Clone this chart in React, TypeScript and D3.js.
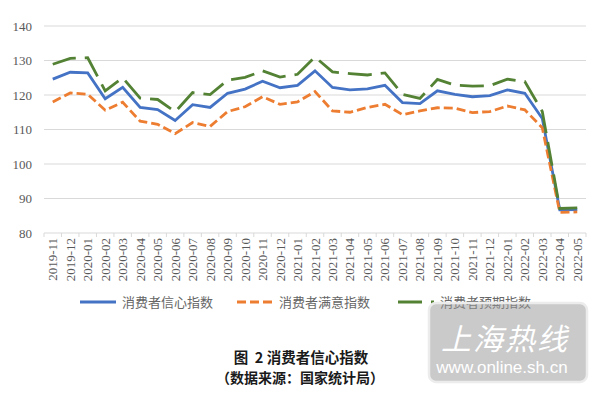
import React, { useEffect, useRef } from 'react'
import * as d3 from 'd3'

const months = [
  '2019-11', '2019-12', '2020-01', '2020-02', '2020-03', '2020-04', '2020-05', '2020-06',
  '2020-07', '2020-08', '2020-09', '2020-10', '2020-11', '2020-12', '2021-01', '2021-02',
  '2021-03', '2021-04', '2021-05', '2021-06', '2021-07', '2021-08', '2021-09', '2021-10',
  '2021-11', '2021-12', '2022-01', '2022-02', '2022-03', '2022-04', '2022-05',
]

// 消费者信心指数
const confidence = [
  124.6, 126.6, 126.4, 118.9, 122.2, 116.4, 115.8, 112.6, 117.2, 116.4, 120.5, 121.7,
  124.0, 122.1, 122.8, 127.0, 122.2, 121.5, 121.8, 122.8, 117.8, 117.5, 121.2, 120.2,
  119.5, 119.8, 121.5, 120.5, 113.2, 86.7, 86.8,
]
// 消费者满意指数
const satisfaction = [
  118.0, 120.6, 120.2, 115.6, 117.9, 112.4, 111.5, 108.8, 112.0, 110.9, 115.2, 116.6,
  119.5, 117.3, 118.0, 121.0, 115.4, 115.0, 116.4, 117.3, 114.3, 115.4, 116.3, 116.2,
  114.9, 115.2, 116.8, 115.7, 110.5, 86.0, 86.1,
]
// 消费者预期指数
const expectation = [
  128.9, 130.6, 130.8, 121.2, 125.0, 119.1, 118.7, 115.1, 120.7, 120.1, 124.3, 125.1,
  127.0, 125.2, 126.0, 131.0, 126.7, 126.2, 125.8, 126.4, 120.2, 119.0, 124.5, 122.9,
  122.6, 122.7, 124.6, 123.9, 115.2, 87.1, 87.3,
]

const yTicks = [80, 90, 100, 110, 120, 130, 140]
const seriesNames = ['消费者信心指数', '消费者满意指数', '消费者预期指数']

const serif = 'serif'

export default function App() {
  const ref = useRef<SVGSVGElement>(null)

  useEffect(() => {
    const svg = d3.select(ref.current)
    svg.selectAll('*').remove()

    const left = 44, right = 586, top = 26, bottom = 233

    const x = d3.scaleBand().domain(months).range([left, right])
    const y = d3.scaleLinear().domain([80, 140]).range([bottom, top])

    // grid
    svg.append('g')
      .selectAll('line')
      .data(yTicks.slice(1))
      .enter()
      .append('line')
      .attr('x1', left).attr('x2', right)
      .attr('y1', d => y(d)).attr('y2', d => y(d))
      .attr('stroke', '#d9d9d9').attr('stroke-width', 1)

    svg.append('g')
      .selectAll('text')
      .data(yTicks)
      .enter()
      .append('text')
      .attr('x', 32)
      .attr('y', d => y(d) + 4.5)
      .attr('text-anchor', 'end')
      .style('font-family', serif)
      .attr('font-size', 13)
      .attr('fill', '#595959')
      .text(d => d)

    // x axis
    const xAxis = svg.append('g').attr('transform', `translate(0,${bottom})`)
    xAxis.append('line')
      .attr('x1', left).attr('x2', right)
      .attr('stroke', '#d9d9d9')
    xAxis.selectAll('line.tick')
      .data(months.map(m => x(m)!).concat([right]))
      .enter()
      .append('line')
      .attr('class', 'tick')
      .attr('x1', d => d).attr('x2', d => d)
      .attr('y1', 0).attr('y2', 4)
      .attr('stroke', '#d9d9d9')
    xAxis.selectAll('text')
      .data(months)
      .enter()
      .append('text')
      .attr('transform', d => `translate(${x(d)! + x.bandwidth() / 2 + 4.5},5) rotate(-90)`)
      .attr('text-anchor', 'end')
      .style('font-family', serif)
      .attr('font-size', 13)
      .attr('fill', '#595959')
      .text(d => d)

    const line = d3.line<number>()
      .x((_, i) => x(months[i])! + x.bandwidth() / 2)
      .y(d => y(d))

    const styles = [
      { data: confidence, color: '#4472c4', dash: null },
      { data: satisfaction, color: '#ed7d31', dash: '9,4' },
      { data: expectation, color: '#548235', dash: '24,9' },
    ]

    styles.forEach(s => {
      svg.append('path')
        .datum(s.data)
        .attr('d', line)
        .attr('fill', 'none')
        .attr('stroke', s.color)
        .attr('stroke-width', 2.8)
        .attr('stroke-dasharray', s.dash)
    })

    // legend
    const legendX = [80, 237, 398]
    const leg = svg.append('g')
    styles.forEach((s, i) => {
      leg.append('line')
        .attr('x1', legendX[i]).attr('x2', legendX[i] + 36)
        .attr('y1', 302).attr('y2', 302)
        .attr('stroke', s.color)
        .attr('stroke-width', 2.8)
        .attr('stroke-dasharray', s.dash)
      leg.append('text')
        .attr('x', legendX[i] + 42)
        .attr('y', 307)
        .attr('font-family', 'Noto Sans CJK SC')
        .attr('font-size', 13)
        .attr('fill', '#666666')
        .text(seriesNames[i])
    })

    // title
    svg.append('text')
      .attr('x', 301).attr('y', 363)
      .attr('text-anchor', 'middle')
      .attr('font-family', 'Noto Sans CJK SC')
      .attr('font-weight', 'bold')
      .attr('font-size', 14.5)
      .attr('fill', '#1a1a1a')
      .attr('xml:space', 'preserve')
      .text('图  2 消费者信心指数')
    svg.append('text')
      .attr('x', 300).attr('y', 383)
      .attr('text-anchor', 'middle')
      .attr('font-family', 'Noto Sans CJK SC')
      .attr('font-weight', 'bold')
      .attr('font-size', 14)
      .attr('fill', '#1a1a1a')
      .text('（数据来源：国家统计局）')

    // watermark
    const wm = svg.append('g')
    wm.append('rect')
      .attr('x', 429).attr('y', 303)
      .attr('width', 158).attr('height', 79)
      .attr('rx', 7)
      .attr('fill', '#969696').attr('fill-opacity', 0.5)
      .attr('stroke', '#ececec').attr('stroke-width', 2.5)
    wm.append('text')
      .attr('x', 505).attr('y', 350)
      .attr('text-anchor', 'middle')
      .attr('font-family', 'Noto Sans CJK SC')
      .attr('font-style', 'italic')
      .attr('font-size', 30)
      .attr('fill', '#ffffff')
      .attr('letter-spacing', 2)
      .text('上海热线')
    wm.append('text')
      .attr('x', 502).attr('y', 373)
      .attr('text-anchor', 'middle')
      .attr('font-family', 'Liberation Sans')
      .attr('font-size', 17)
      .attr('fill', '#ffffff')
      .text('www.online.sh.cn')
  }, [])

  return (
    <svg
      ref={ref}
      width={600}
      height={395}
      style={{ position: 'absolute', left: 0, top: 0, background: '#fff' }}
    />
  )
}
